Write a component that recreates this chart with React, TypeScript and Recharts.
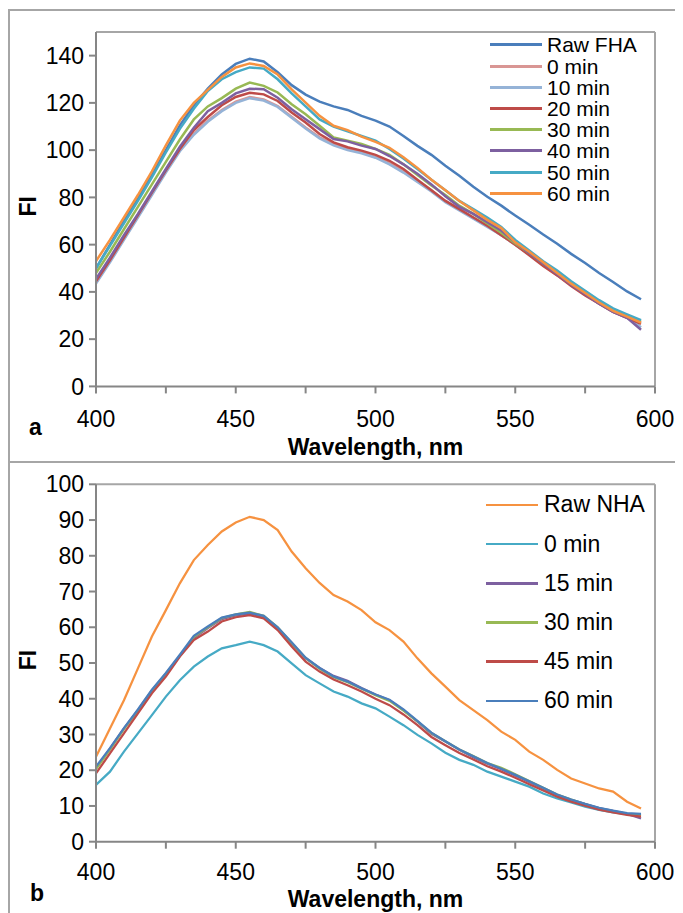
import React from 'react';
import { LineChart, Line, XAxis, YAxis, Legend, ReferenceLine } from 'recharts';

// wavelengths 400..595 nm, step 5
const wavelengths = [
  400, 405, 410, 415, 420, 425, 430, 435, 440, 445,
  450, 455, 460, 465, 470, 475, 480, 485, 490, 495,
  500, 505, 510, 515, 520, 525, 530, 535, 540, 545,
  550, 555, 560, 565, 570, 575, 580, 585, 590, 595,
];

// panel a (FHA)
const rawFHA = [
  50, 60, 70, 79.5, 89.5, 100, 110.5, 119, 126, 132,
  136.5, 138.7, 137.5, 133, 127.5, 123.5, 120.5, 118.5, 117, 114.5,
  112.5, 110, 106, 101.8, 98, 93.4, 89.2, 84.5, 80.3, 76.5,
  72.3, 68.4, 64.3, 60.4, 56.1, 52.2, 48, 44.2, 40.2, 36.9,
];
const fha0 = [
  44, 53, 62.5, 72, 81.5, 91, 100, 107, 112.5, 117,
  120.5, 122.5, 121.5, 118.7, 114.1, 109.6, 105.4, 102.6, 100.5, 99.1,
  97, 94.5, 91, 87, 83, 78.5, 75, 71.5, 68, 64,
  60, 56, 51.5, 47, 43, 39, 35, 31.5, 29, 27,
];
const fha10 = [
  43.5, 52.5, 62, 71.5, 81, 90.5, 99.5, 106.5, 112, 116.5,
  120, 122, 121, 118.3, 113.7, 109.2, 105, 102, 100, 98.7,
  96.8, 94, 90.5, 86.5, 82.5, 78, 74.5, 71, 67.5, 64,
  60, 56, 51.5, 47, 43, 39, 35.5, 32, 29.5, 25,
];
const fha20 = [
  44.5, 53.5, 63, 72.5, 82, 91.5, 100.5, 108.5, 114, 119,
  122.5, 124.3, 123.6, 120.8, 115.9, 111.7, 106.8, 103.3, 101.2, 99.8,
  98, 95.5, 92, 87.5, 83, 78.5, 75, 71.5, 68, 64,
  60, 55.5, 51, 47, 42.5, 38.5, 35, 31.5, 29, 26.5,
];
const fha30 = [
  48, 57, 66.5, 76, 85.5, 95, 104.5, 113, 118.5, 122,
  126, 128.6, 127.2, 124.4, 119.4, 115.2, 110.3, 105.4, 104, 102.6,
  100.5, 98, 94, 89.5, 85, 81, 76.5, 73, 69, 65,
  60.5, 56.5, 52, 48, 43.5, 39.5, 35.5, 32, 29.5, 27.5,
];
const fha40 = [
  45.5, 54.5, 64, 73, 82.5, 92, 101.5, 109.5, 116.5, 120,
  124, 126, 125.8, 122.2, 117.3, 113.1, 108.9, 104.7, 103.7, 101.9,
  100.5, 97.5, 94, 90, 85.5, 80.5, 76, 73, 69.5, 66,
  61, 56.5, 52, 47.5, 43, 39, 35, 31.5, 29, 24,
];
const fha50 = [
  50, 59.5, 69, 78.5, 88.5, 99, 109, 117.5, 125, 130,
  133, 135, 134.5, 130, 124, 118.5, 113, 110, 108, 106,
  104, 100.5, 96.5, 92, 87.5, 83, 78.5, 75, 71.5, 67.5,
  62, 57.5, 53, 49, 44.5, 40.5, 36.5, 33, 30.5, 28,
];
const fha60 = [
  53, 62, 71.5, 81, 91, 102, 112.5, 120, 125.5, 131,
  135, 136.7, 135.6, 132, 125.7, 120.1, 114.5, 110.3, 108.5, 105.7,
  103.5, 101, 97, 92.5, 87.5, 83, 78.5, 74.5, 70.5, 67,
  61, 57, 52.5, 48, 43.5, 39.5, 35.5, 32, 29.5, 27,
];

// panel b (NHA)
const rawNHA = [
  23.8, 31.7, 39.6, 48.5, 57.4, 64.8, 72.3, 78.8, 83, 86.8,
  89.3, 90.9, 90, 87.2, 81.2, 76.5, 72.4, 69, 67.2, 64.8,
  61.4, 59.2, 56, 51.3, 47.1, 43.4, 39.6, 36.8, 34, 30.8,
  28.5, 25.2, 22.9, 20.1, 17.7, 16.3, 14.9, 14, 11.2, 9.3,
];
const nha0 = [
  15.9, 19.6, 25.2, 30.3, 35.4, 40.6, 45.2, 49, 51.8, 54.1,
  55, 56, 55, 53.2, 49.9, 46.6, 44.3, 42, 40.6, 38.7,
  37.3, 35, 32.6, 29.9, 27.5, 24.9, 22.9, 21.5, 19.6, 18.2,
  16.8, 15.4, 13.5, 12.1, 11, 9.8, 8.9, 8.2, 7.7, 7.5,
];
const nha15 = [
  20.5, 26, 31.7, 36.8, 42.3, 47, 52, 57, 59.8, 62.3,
  63.3, 63.8, 63, 59.8, 55.4, 51.3, 48.6, 46.4, 45, 43,
  41.2, 39.6, 36.8, 33.6, 30.2, 28, 25.7, 23.6, 21.8, 20.3,
  18.5, 16.7, 14.8, 13, 11.7, 10.5, 9.4, 8.6, 7.8, 6.5,
];
const nha30 = [
  20.3, 25.8, 31.5, 36.6, 42.2, 46.9, 52, 57.3, 60, 62.6,
  63.6, 64.3, 63.2, 60, 55.6, 51.4, 48.4, 46, 44.6, 42.8,
  41, 39.4, 36.7, 33.7, 30.4, 28.1, 25.8, 24, 22, 20.7,
  18.9, 17, 15.1, 13.2, 11.8, 10.5, 9.3, 8.4, 7.7, 7.5,
];
const nha45 = [
  19.1, 24.7, 30.3, 35.9, 41.5, 46.2, 51.8, 56.4, 58.8, 61.6,
  62.8, 63.4, 62.5, 59.2, 54.6, 50.4, 47.6, 45.4, 43.8, 42,
  40, 38.2, 35.6, 32.6, 29.3, 27, 24.8, 23, 21.1, 19.6,
  17.9, 16.1, 14.3, 12.6, 11.2, 10.1, 9, 8.2, 7.5, 7,
];
const nha60 = [
  21, 26.2, 31.8, 37, 42.5, 47.2, 52.3, 57.6, 60.2, 62.7,
  63.6, 64.1, 63.2, 60, 55.8, 51.5, 48.6, 46.2, 44.8, 42.9,
  41.2, 39.7, 37, 33.8, 30.5, 28.1, 25.8, 23.9, 22, 20.4,
  18.7, 16.9, 15.1, 13.2, 11.8, 10.6, 9.5, 8.7, 8, 7.8,
];

const xTicks = [400, 425, 450, 475, 500, 525, 550, 575, 600];
const yTicksA = [0, 20, 40, 60, 80, 100, 120, 140];
const yTicksB = [0, 10, 20, 30, 40, 50, 60, 70, 80, 90, 100];

const seriesA = [
  { key: 'raw', name: 'Raw FHA', values: rawFHA, color: '#4a7ebb' },
  { key: 'm0', name: '0 min', values: fha0, color: '#d99694' },
  { key: 'm10', name: '10 min', values: fha10, color: '#95b3d7' },
  { key: 'm20', name: '20 min', values: fha20, color: '#be4b48' },
  { key: 'm30', name: '30 min', values: fha30, color: '#98b954' },
  { key: 'm40', name: '40 min', values: fha40, color: '#7d60a0' },
  { key: 'm50', name: '50 min', values: fha50, color: '#46aac5' },
  { key: 'm60', name: '60 min', values: fha60, color: '#f69240' },
];

const seriesB = [
  { key: 'raw', name: 'Raw NHA', values: rawNHA, color: '#f69240' },
  { key: 'm0', name: '0 min', values: nha0, color: '#46aac5' },
  { key: 'm15', name: '15 min', values: nha15, color: '#7d60a0' },
  { key: 'm30', name: '30 min', values: nha30, color: '#98b954' },
  { key: 'm45', name: '45 min', values: nha45, color: '#be4b48' },
  { key: 'm60', name: '60 min', values: nha60, color: '#4a7ebb' },
];

type Series = { key: string; name: string; values: number[]; color: string };

const buildRows = (series: Series[]) =>
  wavelengths.map((wl, i) => {
    const row: Record<string, number> = { wl };
    series.forEach((s) => (row[s.key] = s.values[i]));
    return row;
  });

const dataA = buildRows(seriesA);
const dataB = buildRows(seriesB);

const FONT = '"Liberation Sans", Arial, sans-serif';
const AXIS = '#868686';
const BORDER = '#a6a6a6';

const YTitle = ({ viewBox }: any) => {
  const cx = viewBox.x - 8;
  const cy = viewBox.y + viewBox.height / 2 - 3;
  return (
    <text
      x={cx}
      y={cy}
      transform={`rotate(-90, ${cx}, ${cy})`}
      textAnchor="middle"
      dominantBaseline="central"
      fontFamily={FONT}
      fontSize={23}
      fontWeight="bold"
      fill="#000"
    >
      FI
    </text>
  );
};

const XTitle = ({ viewBox, dy }: any) => (
  <text
    x={viewBox.x + viewBox.width / 2}
    y={viewBox.y + dy}
    textAnchor="middle"
    dominantBaseline="central"
    fontFamily={FONT}
    fontSize={23}
    fontWeight="bold"
    fill="#000"
  >
    Wavelength, nm
  </text>
);

const makeLegend = (series: Series[], rowH: number, fontSize: number, lineW: number, thick: number, gap: number) => () => (
  <div style={{ fontFamily: FONT }}>
    {series.map((s) => (
      <div key={s.key} style={{ display: 'flex', alignItems: 'center', height: rowH }}>
        <span style={{ display: 'inline-block', width: lineW, height: thick, background: s.color }} />
        <span style={{ marginLeft: gap, fontSize, lineHeight: `${rowH}px`, color: '#000', whiteSpace: 'nowrap' }}>{s.name}</span>
      </div>
    ))}
  </div>
);

interface PanelProps {
  data: Record<string, number>[];
  series: Series[];
  yMax: number;
  yTicks: number[];
  height: number;
  marginTop: number;
  marginBottom: number;
  strokeWidth: number;
  tickGap: number;
  titleDy: number;
  legend: () => React.ReactElement;
  legendPos: { left: number; top: number };
}

const Panel: React.FC<PanelProps> = ({ data, series, yMax, yTicks, height, marginTop, marginBottom, strokeWidth, tickGap, titleDy, legend, legendPos }) => (
  <LineChart width={675} height={height} data={data} margin={{ top: marginTop, right: 28, left: 28, bottom: marginBottom }}>
    <XAxis
      dataKey="wl"
      type="number"
      domain={[400, 600]}
      ticks={xTicks}
      interval={0}
      height={50}
      tickFormatter={(v: number) => (v % 50 === 0 ? String(v) : '')}
      tick={{ fill: '#000', fontSize: 23, fontFamily: FONT }}
      tickSize={7}
      tickMargin={tickGap}
      axisLine={{ stroke: AXIS, strokeWidth: 2 }}
      tickLine={{ stroke: AXIS, strokeWidth: 2 }}
      label={<XTitle dy={titleDy} />}
    />
    <YAxis
      type="number"
      domain={[0, yMax]}
      ticks={yTicks}
      interval={0}
      width={60}
      tick={{ fill: '#000', fontSize: 23, fontFamily: FONT }}
      tickSize={7}
      tickMargin={5}
      axisLine={{ stroke: AXIS, strokeWidth: 2 }}
      tickLine={{ stroke: AXIS, strokeWidth: 2 }}
      label={<YTitle />}
    />
    <ReferenceLine y={yMax} stroke={BORDER} strokeWidth={2} />
    <ReferenceLine x={600} stroke={BORDER} strokeWidth={2} />
    <Legend
      layout="vertical"
      align="center"
      verticalAlign="middle"
      content={legend}
      wrapperStyle={{ position: 'absolute', left: legendPos.left, top: legendPos.top, width: 'auto', height: 'auto' }}
    />
    {series.map((s) => (
      <Line
        key={s.key}
        type="linear"
        dataKey={s.key}
        name={s.name}
        stroke={s.color}
        strokeWidth={strokeWidth}
        dot={false}
        isAnimationActive={false}
      />
    ))}
  </LineChart>
);

const panelLabel = (text: string, left: number, top: number) => (
  <span style={{ position: 'absolute', left, top, fontFamily: FONT, fontSize: 23, lineHeight: '23px', fontWeight: 'bold', color: '#000' }}>
    {text}
  </span>
);

export default function App() {
  return (
    <div style={{ position: 'relative', width: 675, height: 905, fontFamily: FONT }}>
      <div style={{ position: 'absolute', left: 0, top: 1, width: 675, height: 453, boxSizing: 'border-box', borderTop: `2px solid ${BORDER}`, borderLeft: `2px solid ${BORDER}` }} />
      <div style={{ position: 'absolute', left: 0, top: 453, width: 675, height: 460, boxSizing: 'border-box', borderTop: `2px solid ${BORDER}`, borderLeft: `2px solid ${BORDER}` }} />
      <div style={{ position: 'absolute', left: 0, top: 0 }}>
        <Panel
          data={dataA}
          series={seriesA}
          yMax={150}
          yTicks={yTicksA}
          height={455}
          marginTop={24}
          marginBottom={26.6}
          strokeWidth={2.5}
          tickGap={17}
          titleDy={61}
          legend={makeLegend(seriesA, 21.2, 21, 52, 3, 5)}
          legendPos={{ left: 482, top: 26.4 }}
        />
      </div>
      <div style={{ position: 'absolute', left: 0, top: 454 }}>
        <Panel
          data={dataB}
          series={seriesB}
          yMax={100}
          yTicks={yTicksB}
          height={451}
          marginTop={22.3}
          marginBottom={21.3}
          strokeWidth={2.25}
          tickGap={15}
          titleDy={57}
          legend={makeLegend(seriesB, 39.2, 23, 52, 2.5, 6)}
          legendPos={{ left: 478, top: 23.4 }}
        />
      </div>
      {panelLabel('a', 21, 408)}
      {panelLabel('b', 22, 874)}
    </div>
  );
}
